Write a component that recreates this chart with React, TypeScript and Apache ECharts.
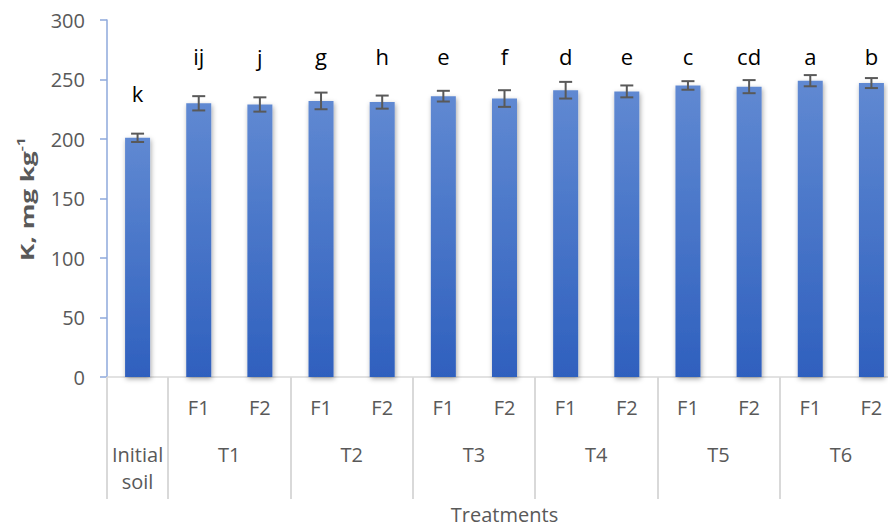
import React, { useEffect, useRef } from "react";
import * as echarts from "echarts";

const treatments = ["Initial\nsoil", "T1", "T2", "T3", "T4", "T5", "T6"];
const fertilizers = ["F1", "F2"];
const kValues = [201, 230, 229, 232, 231, 236, 234, 241, 240, 245, 244, 249, 247];
const kErrors = [3.5, 6, 6, 7, 5.5, 4.5, 7, 7, 5, 3.6, 5.5, 4.7, 4.2];
const letters = ["k", "ij", "j", "g", "h", "e", "f", "d", "e", "c", "cd", "a", "b"];
const yTicks = [0, 50, 100, 150, 200, 250, 300];
const letterRow = 270;
const yTitle = "{b|K, mg kg}{s|-1}";
const xTitle = "Treatments";

// build categories: initial soil (no sub label) + each treatment x fertilizer
const categories: string[] = ["Initial soil|"];
const groupSpans: number[][] = [[0, 0]];
for (let t = 1; t < treatments.length; t++) {
  const start = categories.length;
  fertilizers.forEach((f) => categories.push(treatments[t] + "|" + f));
  groupSpans.push([start, categories.length - 1]);
}

const FONT = "'Open Sans', sans-serif";

export default function App() {
  const ref = useRef<HTMLDivElement>(null);
  useEffect(() => {
    if (!ref.current) return;
    const chart = echarts.init(ref.current, undefined, { renderer: "svg" });
    const barColor = new echarts.graphic.LinearGradient(0, 0, 0, 1, [
      { offset: 0, color: "#6089D2" },
      { offset: 1, color: "#2F60BE" },
    ]);
    chart.setOption({
      animation: false,
      textStyle: { fontFamily: FONT },
      grid: {
        left: 107,
        top: 20,
        width: 795,
        bottom: 151,
        containLabel: false,
        outerBoundsMode: "none",
      },
      graphic: [
        {
          type: "text",
          x: 27,
          y: 199,
          rotation: Math.PI / 2,
          scaleX: 1.45,
          silent: true,
          style: {
            text: yTitle,
            align: "center",
            verticalAlign: "middle",
            rich: {
              b: { fontSize: 18, fontWeight: "bold", fill: "#595959", fontFamily: FONT, lineHeight: 24 },
              s: { fontSize: 11, fontWeight: "bold", fill: "#595959", fontFamily: FONT, verticalAlign: "top", lineHeight: 11 },
            },
          },
        },
      ],
      xAxis: {
        type: "category",
        data: categories,
        axisLine: { lineStyle: { color: "#D9D9D9", width: 1.5 } },
        axisTick: {
          show: true,
          inside: false,
          length: 122,
          interval: (idx: number) => idx === 0 || idx % 2 === 1,
          lineStyle: { color: "#D9D9D9", width: 2 },
        },
        axisLabel: {
          interval: 0,
          margin: 20,
          color: "#595959",
          fontSize: 20,
          fontFamily: FONT,
          formatter: (v: string) => v.split("|")[1] || "",
        },
        name: xTitle,
        nameLocation: "middle",
        nameGap: 125,
        nameTextStyle: { color: "#595959", fontSize: 20, fontFamily: FONT, lineHeight: 24 },
      },
      yAxis: {
        type: "value",
        min: yTicks[0],
        max: yTicks[yTicks.length - 1],
        interval: 50,
        splitLine: { show: false },
        axisLine: { show: true, lineStyle: { color: "#8EA9DB", width: 1.5 } },
        axisTick: { show: true, length: 7, lineStyle: { color: "#8EA9DB", width: 1.5 } },
        axisLabel: { color: "#595959", fontSize: 20, margin: 22, fontFamily: FONT },
      },
      series: [
        {
          type: "bar",
          data: kValues,
          barWidth: 25,
          itemStyle: {
            color: barColor,
            shadowColor: "rgba(0,0,0,0.35)",
            shadowBlur: 5,
            shadowOffsetX: 1,
            shadowOffsetY: 2,
          },
          z: 2,
        },
        {
          type: "custom",
          data: kValues.map((v, i) => [i, v, kErrors[i]]),
          encode: { x: 0, y: 1 },
          z: 5,
          silent: true,
          clip: false,
          renderItem: (params: any, api: any) => {
            const i = api.value(0);
            const v = api.value(1);
            const e = api.value(2);
            const top = api.coord([i, v + e]);
            const bot = api.coord([i, v - e]);
            const lab = api.coord([i, Math.min(letterRow, v + e + 34)]);
            const x = top[0];
            const cap = 6.5;
            const ls = { stroke: "#595959", lineWidth: 2 };
            return {
              type: "group",
              children: [
                { type: "line", shape: { x1: x, y1: top[1], x2: x, y2: bot[1] }, style: ls },
                { type: "line", shape: { x1: x - cap, y1: top[1], x2: x + cap, y2: top[1] }, style: ls },
                { type: "line", shape: { x1: x - cap, y1: bot[1], x2: x + cap, y2: bot[1] }, style: ls },
                {
                  type: "text",
                  x: lab[0],
                  y: lab[1],
                  style: {
                    text: letters[params.dataIndex],
                    fill: "#000",
                    fontSize: 22,
                    fontFamily: FONT,
                    align: "center",
                    verticalAlign: "middle",
                  },
                },
              ],
            };
          },
        },
        {
          type: "custom",
          data: groupSpans.map((s) => [s[0], 0, s[1]]),
          encode: { x: 0, y: 1 },
          z: 5,
          silent: true,
          clip: false,
          renderItem: (params: any, api: any) => {
            const p0 = api.coord([api.value(0), 0]);
            const p1 = api.coord([api.value(2), 0]);
            return {
              type: "text",
              x: (p0[0] + p1[0]) / 2,
              y: p0[1] + 64,
              style: {
                text: treatments[params.dataIndex],
                fill: "#595959",
                fontSize: 20,
                fontFamily: FONT,
                lineHeight: 27,
                align: "center",
                verticalAlign: "top",
              },
            };
          },
        },
      ],
    });
    return () => chart.dispose();
  }, []);
  return (
    <div
      ref={ref}
      style={{ position: "fixed", left: 0, top: 0, width: 888, height: 528, background: "#fff" }}
    />
  );
}
